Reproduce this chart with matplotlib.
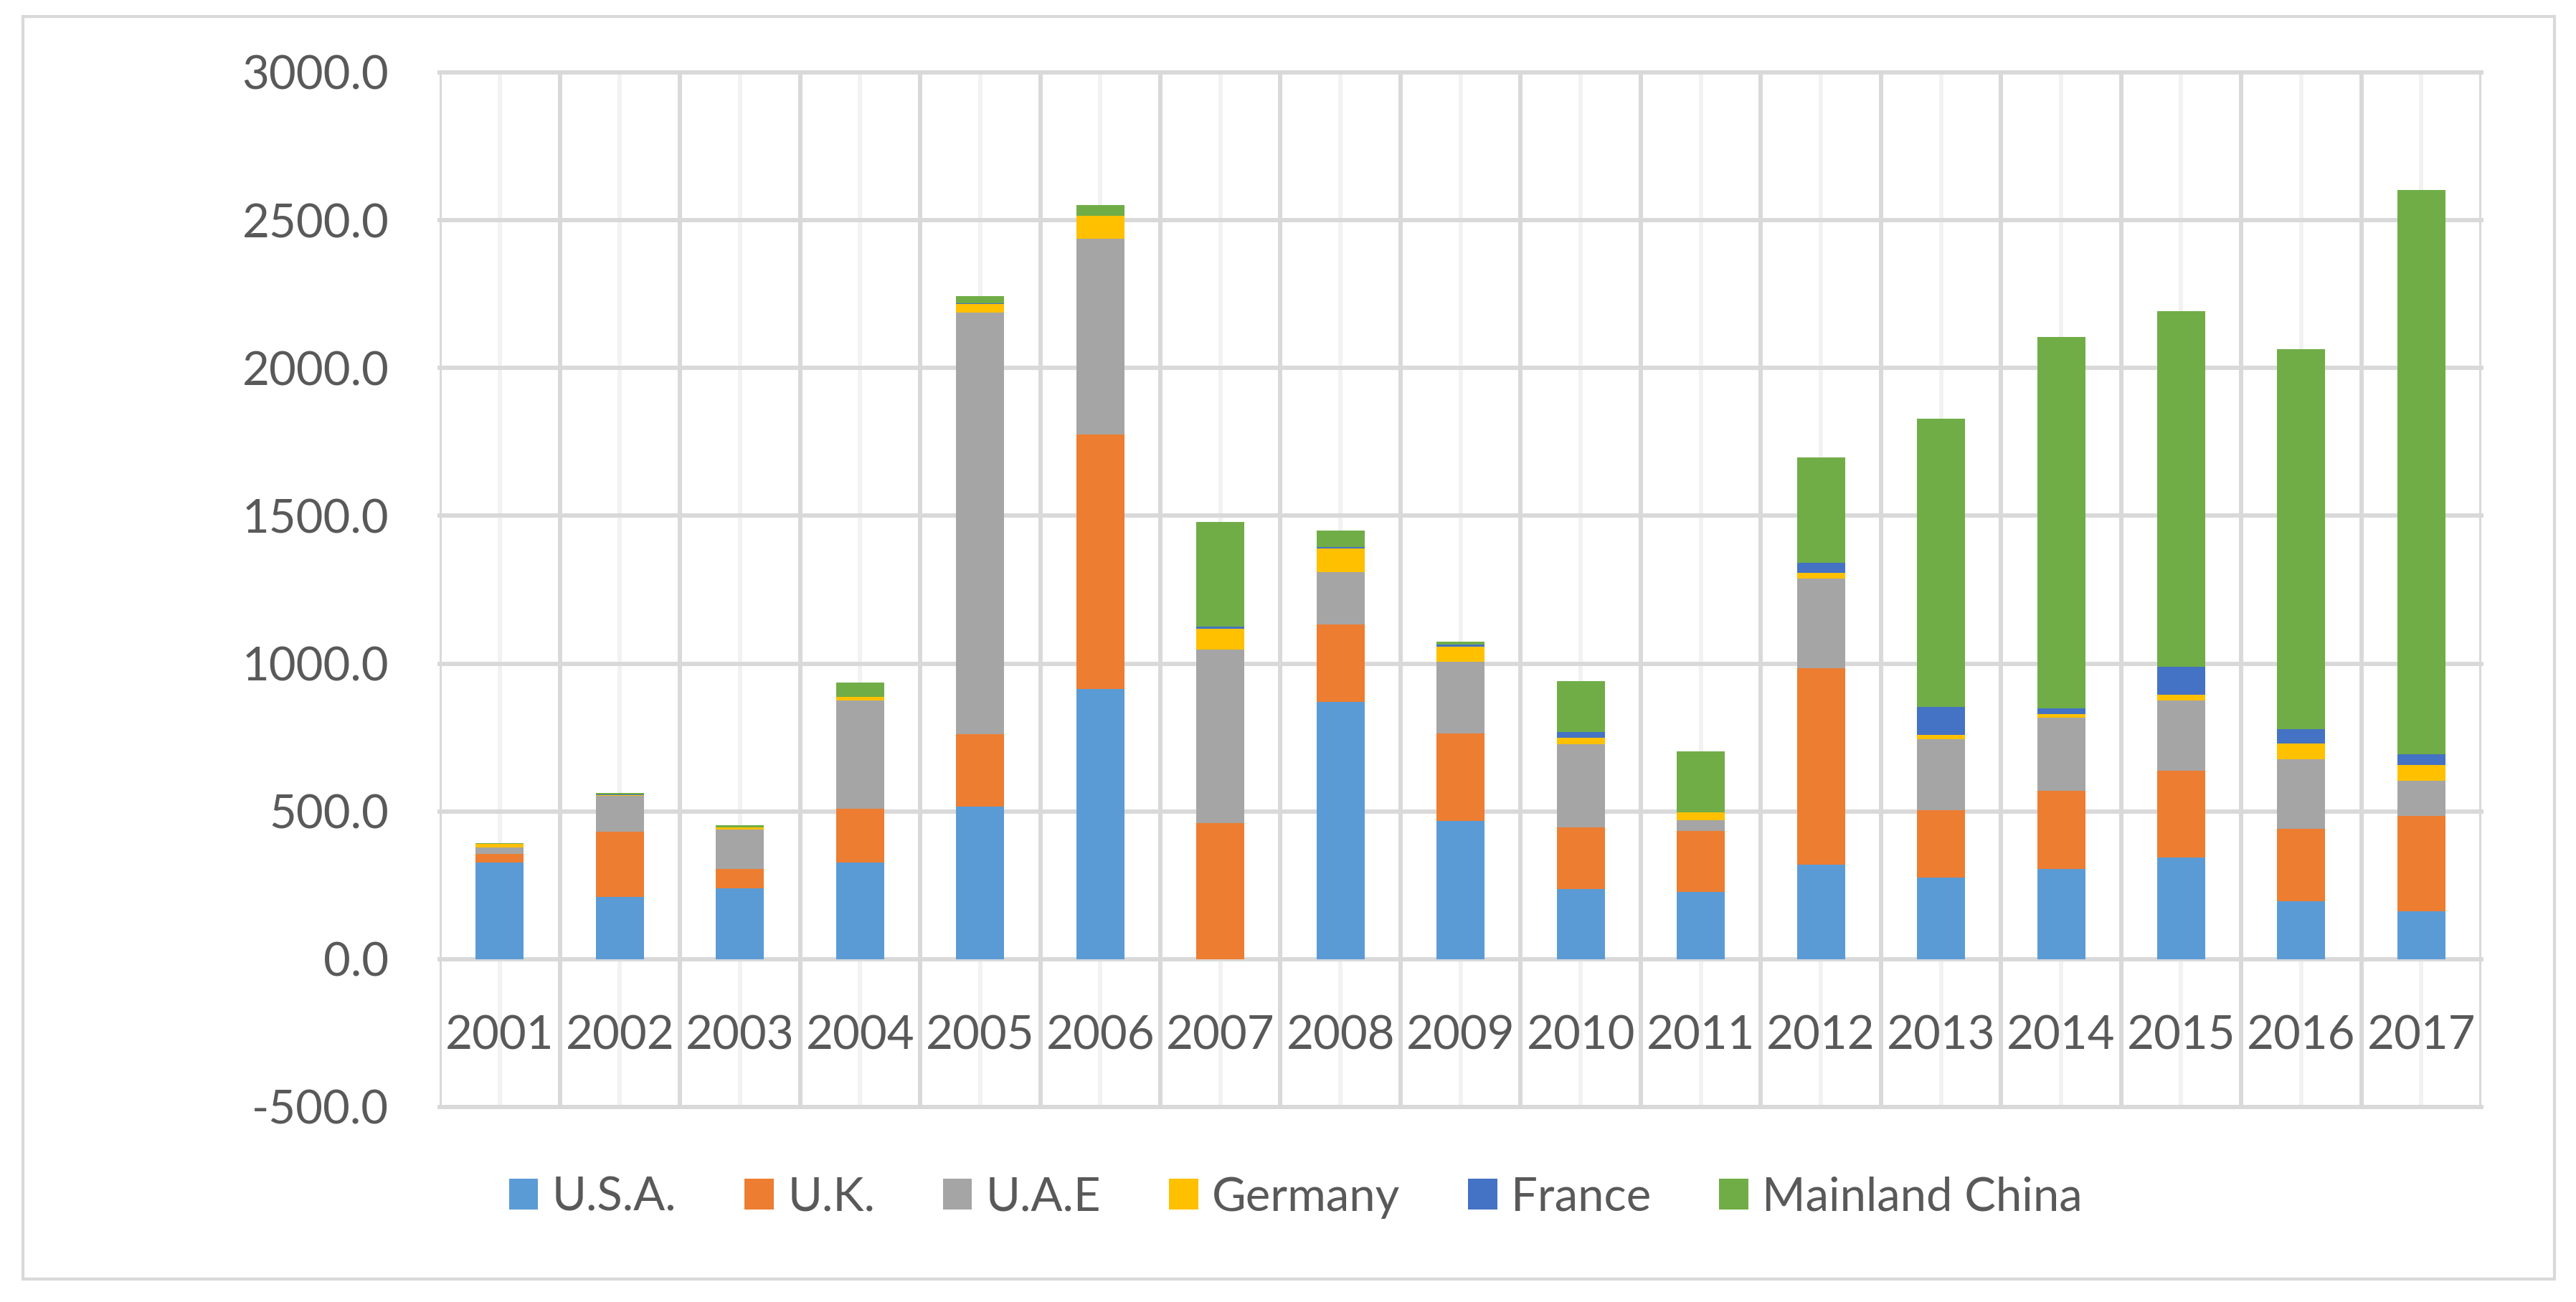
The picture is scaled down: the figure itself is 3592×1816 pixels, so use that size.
# Stacked bar chart of values by country, 2001-2017
import matplotlib.pyplot as plt
from matplotlib.patches import Rectangle
from matplotlib.ticker import FuncFormatter, FixedLocator

# Data
years = ['2001', '2002', '2003', '2004', '2005', '2006', '2007', '2008', '2009',
         '2010', '2011', '2012', '2013', '2014', '2015', '2016', '2017']

usa = [327, 211, 240, 327, 517, 915, 0, 870, 468, 238, 227, 319, 276, 306, 345, 196, 162]
uk = [30, 220, 64, 181, 245, 860, 460, 262, 295, 207, 206, 666, 229, 263, 292, 246, 322]
uae = [21, 121, 135, 367, 1425, 663, 588, 178, 242, 283, 38, 303, 240, 248, 239, 235, 120]
germany = [12, 3, 6, 13, 29, 78, 69, 79, 53, 22, 27, 18, 14, 12, 19, 52, 52]
france = [0, 2, 0, 0, 2, 0, 9, 6, 7, 18, 0, 35, 95, 19, 95, 49, 37]
china = [3, 6, 9, 48, 26, 35, 354, 54, 9, 173, 205, 356, 975, 1256, 1203, 1286, 1908]

series_names = ['U.S.A.', 'U.K.', 'U.A.E', 'Germany', 'France', 'Mainland China']
series_values = [usa, uk, uae, germany, france, china]
colors = ['#5B9BD5', '#ED7D31', '#A5A5A5', '#FFC000', '#4472C4', '#70AD47']

text_color = '#595959'
grid_color = '#D9D9D9'
minor_grid_color = '#F2F2F2'

plt.rcParams['font.family'] = ['Lato', 'DejaVu Sans']
plt.rcParams['axes.unicode_minus'] = False

fig = plt.figure(figsize=(35.92, 18.16), dpi=100)
ax = fig.add_axes([0.1707, 0.1498, 0.7926, 0.7946])

# Draw the stacked bars
x = list(range(len(years)))
bottom = [0] * len(years)
handles = []
for name, vals, col in zip(series_names, series_values, colors):
    b = ax.bar(x, vals, width=0.4, bottom=bottom, color=col, label=name, zorder=3)
    handles.append(b)
    bottom = [a + v for a, v in zip(bottom, vals)]

# Axes ranges
ax.set_xlim(-0.5, len(years) - 0.5)
ax.set_ylim(-500, 3000)

# Y axis: ticks every 500, one decimal
ax.set_yticks(range(-500, 3001, 500))
ax.yaxis.set_major_formatter(FuncFormatter(lambda v, p: f"{v:.1f}"))
ax.tick_params(axis='y', length=0, pad=51, labelsize=47, labelcolor=text_color)

# X axis: labels at centres, sitting just under the zero line
ax.set_xticks(x)
ax.set_xticklabels(years)
ax.xaxis.set_minor_locator(FixedLocator([i - 0.5 for i in range(len(years) + 1)]))
ax.tick_params(axis='x', which='both', length=0, pad=56, labelsize=47, labelcolor=text_color)

# Gridlines
ax.set_axisbelow(True)
ax.grid(axis='y', which='major', color=grid_color, linewidth=4.3, zorder=0)
ax.grid(axis='x', which='minor', color=grid_color, linewidth=4.3, zorder=0)
ax.grid(axis='x', which='major', color=minor_grid_color, linewidth=4.3, zorder=0)
for tick in ax.xaxis.get_major_ticks() + ax.xaxis.get_minor_ticks() + ax.yaxis.get_major_ticks():
    tick.gridline.set_clip_on(False)

# Spines: only the horizontal axis line at zero
for s in ['top', 'right', 'left']:
    ax.spines[s].set_visible(False)
ax.spines['bottom'].set_position(('data', 0))
ax.spines['bottom'].set_color(grid_color)
ax.spines['bottom'].set_linewidth(4.3)
ax.spines['bottom'].set_zorder(2)

# Legend under the chart
fig.legend(handles=handles, loc='center', bbox_to_anchor=(0.503, 1 - 1670 / 1816),
           ncol=6, frameon=False, fontsize=47, labelcolor=text_color,
           handlelength=0.62, handleheight=0.62, handletextpad=0.3, columnspacing=1.45)

# Outer chart border
fig.add_artist(Rectangle((32 / 3592, 1 - 1784 / 1816), (3562 - 32) / 3592, (1784 - 23) / 1816,
                         transform=fig.transFigure, fill=False, edgecolor=grid_color, linewidth=3))

fig.savefig('out.png', dpi=100, facecolor='white')
